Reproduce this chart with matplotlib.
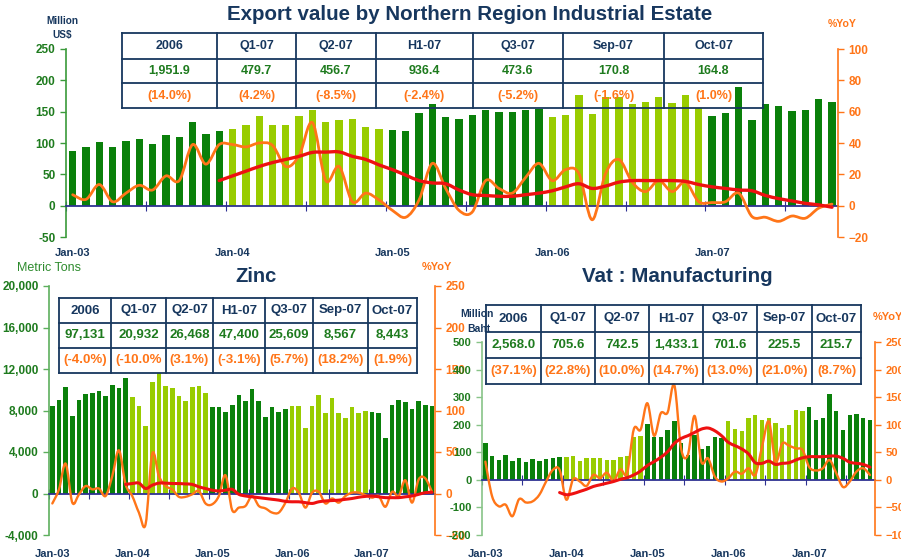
import numpy as np
import matplotlib
matplotlib.use('Agg')
import matplotlib.pyplot as plt
from matplotlib.path import Path
from matplotlib.patches import PathPatch

plt.rcParams['font.family'] = ['Liberation Sans', 'DejaVu Sans']
plt.rcParams['font.weight'] = 'bold'

# Months run Jan-03 .. Oct-07 (58 bars), 12-month average starts Dec-03
jan_idx = [0, 12, 24, 36, 48]
jan_labels = ['Jan-03', 'Jan-04', 'Jan-05', 'Jan-06', 'Jan-07']
ma_start = 11
table_head = ['2006', 'Q1-07', 'Q2-07', 'H1-07', 'Q3-07', 'Sep-07', 'Oct-07']

# Export value (Million US$) and %YoY
export_val = [88, 94, 102, 94, 103, 106, 99, 113, 110, 134, 115, 119,
              123, 129, 143, 128, 129, 143, 152, 134, 136, 138, 125, 122,
              121, 119, 148, 162, 141, 139, 145, 152, 150, 150, 152, 155,
              141, 145, 177, 146, 174, 174, 162, 166, 174, 164, 176, 156,
              143, 148, 190, 136, 162, 159, 151, 152, 171, 165]
export_yoy = [7, 4, 13.5, 2.5, 8, 13, 10, 19, 16, 39, 26.5, 39,
              39, 37.5, 40, 38.5, 25, 32, 53, 16, 25, 2.5, 8, 3.6,
              -3, -7.4, 3.6, 27, 11, -3, -4, 16, 11, 8, 18, 27,
              16, 23, 20.5, -9, 20.5, 29.5, 15, 9, 16, 9, 15, 2.5,
              2, 2.5, 8, -7, -7.4, -10, -6.6, -8, -1.6, 1.0]
export_ma = [16, 19, 22, 25, 27.5, 29.5, 31.5, 34, 34.2, 34.3,
             31.5, 29.5, 26, 23, 19.5, 16, 14.5, 14, 10, 7,
             6.5, 6, 6, 7, 8, 9.5, 12, 14, 11, 12.5,
             15, 16, 16, 16, 16, 15.5, 13.5, 12, 11, 10,
             9.5, 6.5, 4.5, 3, 1.5, 0.5, -1]
export_tab_val = ['1,951.9', '479.7', '456.7', '936.4', '473.6', '170.8', '164.8']
export_tab_pct = ['(14.0%)', '(4.2%)', '(-8.5%)', '(-2.4%)', '(-5.2%)', '(-1.6%)', '(1.0%)']

# Zinc (Metric Tons) and %YoY
zinc_val = [8480, 9060, 10270, 7460, 9060, 9600, 9730, 9890, 9440, 10500, 10140, 11100,
            9310, 8420, 6460, 10780, 11650, 10370, 10210, 9440, 8930, 10270, 10370, 9700,
            8350, 8350, 7810, 8540, 9540, 8930, 10050, 8930, 7390, 8350, 7810, 8100,
            8450, 8450, 6300, 8450, 9450, 7750, 9250, 7750, 7250, 8300, 7750, 8000,
            7850, 7750, 5330, 8560, 9050, 8860, 8150, 8890, 8567, 8443]
zinc_yoy = [-12, 5, 36, -11, -1, 9, 5, 6, -3, 21, 52, 11,
            -3, -23, -37, 48, 21, 9, 5, -4, -4, -1, 3, -12,
            -13, -3, 22, -20, -17, -15, -3, -15, -18, -23, -23, -11,
            6, 1, -17, 1, 2, -12, -6, -11, -3, 1, 1, -2,
            -5, -3, -16, 2, -3, 16, -11, 17, 18.2, 1.9]
zinc_ma = [11, 12, 12.5, 6, 10, 12.5, 12.5, 12, 12, 11.5,
           11, 8, 6, 4, 3, 4, 5, -1, -3, -4,
           -5, -6, -7, -8, -9.5, -10, -10, -11, -12, -10,
           -9, -8.5, -8, -7, -6, -4.5, -3.5, -3, -4, -5,
           -5, -5, -4, -3, -1, 1, 1.5]
zinc_tab_val = ['97,131', '20,932', '26,468', '47,400', '25,609', '8,567', '8,443']
zinc_tab_pct = ['(-4.0%)', '(-10.0%', '(3.1%)', '(-3.1%)', '(5.7%)', '(18.2%)', '(1.9%)']

# Vat : Manufacturing (Million Baht) and %YoY
vat_val = [133, 87, 72, 89, 70, 78, 63, 76, 70, 76, 80, 83,
           83, 87, 70, 80, 80, 80, 72, 72, 83, 87, 155, 160,
           203, 157, 157, 181, 213, 133, 91, 163, 112, 121, 157, 151,
           213, 184, 178, 223, 237, 216, 225, 207, 187, 199, 252, 249,
           266, 216, 224, 310, 250, 182, 236, 240, 225.5, 215.7]
vat_yoy = [33, -30, -48, -45, -66, -35, -41, -39, -27, -3, 18, 18,
           -36, 1, -3, -11, 9, 3, 13, -2, 19, 12, 92, 91,
           139, 80, 121, 122, 172, 57, 45, 116, 33, 39, 6, -3,
           3, 15, 11, 21, 9, 60, 106, 33, 66, 62, 57, 54,
           23, 17, 21, 36, 12, -13, -3, 15, 21.0, 8.7]
vat_ma = [-23, -27, -25, -21, -17, -12, -9, -6, -3, 1,
          4, 9, 16, 26, 33, 41, 51, 66, 75, 80,
          86, 92, 94, 89, 80, 68, 62, 56, 47, 31,
          30, 34, 28, 30, 31, 36, 40, 42, 42, 42,
          43, 43, 39, 32, 30, 28, 23]
vat_tab_val = ['2,568.0', '705.6', '742.5', '1,433.1', '701.6', '225.5', '215.7']
vat_tab_pct = ['(37.1%)', '(22.8%)', '(10.0%)', '(14.7%)', '(13.0%)', '(21.0%)', '(8.7%)']

DARK = '#0A800A'
LIGHT = '#99CC00'
ORANGE = '#FF7518'
RED = '#EE1111'
NAVY = '#17375E'
AXNAVY = '#2E3192'
TICKGREEN = '#1E7B1E'

W, H = 901, 558
fig = plt.figure(figsize=(W / 100, H / 100), dpi=100)


def rect(l, t, r, b):
    return [l / W, 1 - b / H, (r - l) / W, (b - t) / H]


def smooth_line(ax, x, y, color, lw):
    # Excel style smoothed line: bezier through every data point
    p = np.column_stack([x, y]).astype(float)
    verts = [p[0]]
    codes = [Path.MOVETO]
    n = len(p)
    for k in range(n - 1):
        p0 = p[k - 1] if k > 0 else p[k]
        p3 = p[k + 2] if k + 2 < n else p[k + 1]
        c1 = p[k] + (p[k + 1] - p0) / 6
        c2 = p[k + 1] - (p3 - p[k]) / 6
        verts += [c1, c2, p[k + 1]]
        codes += [Path.CURVE4] * 3
    ax.add_patch(PathPatch(Path(verts, codes), facecolor='none',
                           edgecolor=color, lw=lw, capstyle='round',
                           joinstyle='round'))


def panel(box, vals, yoy, ma, xlim, ylim, yticks, yfmt, ylim2, yticks2,
          barw, spine_col, lw_o, lw_r, xpad, lsize):
    ax = fig.add_axes(rect(*box))
    ax.patch.set_visible(False)
    x = np.arange(len(vals))
    cols = [DARK if (i // 12) % 2 == 0 else LIGHT for i in x]
    ax.bar(x, vals, width=barw, color=cols, zorder=2)
    ax.set_xlim(*xlim)
    ax.set_ylim(*ylim)
    ax.set_yticks(yticks)
    ax.set_yticklabels([yfmt(v) for v in yticks])
    ax.tick_params(axis='y', color=spine_col, labelcolor=TICKGREEN,
                   labelsize=lsize, length=4, width=1)
    for s in ['top', 'right']:
        ax.spines[s].set_visible(False)
    ax.spines['left'].set_color(spine_col)
    ax.spines['left'].set_linewidth(1.2)
    ax.spines['bottom'].set_position(('data', 0))
    ax.spines['bottom'].set_color(AXNAVY)
    ax.spines['bottom'].set_linewidth(1.3)
    ax.spines['bottom'].set_zorder(3)
    ax.set_xticks(np.arange(-0.5, len(vals), 6))
    ax.tick_params(axis='x', direction='inout', length=7, color=AXNAVY,
                   labelbottom=False)
    sec = ax.secondary_xaxis(0)
    sec.set_xticks(jan_idx, jan_labels)
    sec.tick_params(length=0, pad=xpad, labelsize=8, labelcolor=NAVY)
    sec.spines['bottom'].set_visible(False)

    ax2 = ax.twinx()
    smooth_line(ax2, x, yoy, ORANGE, lw_o)
    smooth_line(ax2, np.arange(ma_start, len(vals)), ma, RED, lw_r)
    ax2.set_ylim(*ylim2)
    ax2.set_yticks(yticks2)
    ax2.tick_params(axis='y', color=ORANGE, labelcolor=ORANGE,
                    labelsize=lsize, length=4, width=1)
    for s in ['top', 'left', 'bottom']:
        ax2.spines[s].set_visible(False)
    ax2.spines['right'].set_color(ORANGE)
    ax2.spines['right'].set_linewidth(1.2)
    return ax, ax2


panel((66, 49, 838, 237), export_val, export_yoy, export_ma,
      (-0.45, 57.45), (-50, 250), range(-50, 251, 50), lambda v: f'{v}',
      (-20, 100), range(-20, 101, 20), 0.55, '#3A9A3A', 2.0, 2.4, 8, 8.5)

panel((49, 286, 435, 535), zinc_val, zinc_yoy, zinc_ma,
      (-0.45, 57.45), (-4000, 20000), range(-4000, 20001, 4000),
      lambda v: f'{v:,}', (-50, 250), range(-50, 251, 50),
      0.7, '#5DAF5D', 1.7, 2.2, 10, 8.5)

panel((482, 342, 875, 535), vat_val, vat_yoy, vat_ma,
      (-0.45, 57.74), (-200, 500), range(-200, 501, 100), lambda v: f'{v}',
      (-100, 250), range(-100, 251, 50),
      0.65, '#88C488', 1.7, 2.2, 10, 8)

# overlay in pixel coordinates for titles, unit labels and tables
ov = fig.add_axes([0, 0, 1, 1])
ov.set_xlim(0, W)
ov.set_ylim(H, 0)
ov.axis('off')


def draw_table(cols, rows, vals, pcts, size):
    for xc in cols:
        ov.plot([xc, xc], [rows[0], rows[-1]], color=NAVY, lw=1.3)
    for yr in rows:
        ov.plot([cols[0], cols[-1]], [yr, yr], color=NAVY, lw=1.3)
    for j in range(len(table_head)):
        cx = (cols[j] + cols[j + 1]) / 2
        cells = [(table_head[j], NAVY), (vals[j], TICKGREEN), (pcts[j], ORANGE)]
        for r, (txt, c) in enumerate(cells):
            cy = (rows[r] + rows[r + 1]) / 2
            ov.text(cx, cy, txt, ha='center', va='center', color=c, fontsize=size)


draw_table([122, 217, 296, 376, 473, 563, 664, 763], [33, 59, 83, 108],
           export_tab_val, export_tab_pct, 9)
draw_table([59, 111, 166, 213, 265, 313, 368, 417], [298, 323, 348, 373],
           zinc_tab_val, zinc_tab_pct, 9.5)
draw_table([486, 541, 595, 649, 703, 757, 812, 861], [305, 332, 358, 384],
           vat_tab_val, vat_tab_pct, 9.5)

ov.text(470, 14, 'Export value by Northern Region Industrial Estate',
        ha='center', va='center', color=NAVY, fontsize=14.8)
ov.text(256, 277, 'Zinc', ha='center', va='center', color=NAVY, fontsize=14.5)
ov.text(677, 277, 'Vat : Manufacturing', ha='center', va='center',
        color=NAVY, fontsize=14.8)

ov.text(62, 21, 'Million', ha='center', va='center', color=NAVY, fontsize=7.2)
ov.text(62, 35, 'US$', ha='center', va='center', color=NAVY, fontsize=7.2)
ov.text(842, 24, '%YoY', ha='center', va='center', color=ORANGE, fontsize=7.6)

ov.text(49, 268, 'Metric Tons', ha='center', va='center', color='#2E8B2E',
        fontsize=9, fontweight='normal')
ov.text(437, 267, '%YoY', ha='center', va='center', color=ORANGE, fontsize=8)

ov.text(477, 314, 'Million', ha='center', va='center', color=NAVY, fontsize=7.5)
ov.text(479, 329, 'Baht', ha='center', va='center', color=NAVY, fontsize=7.5)
ov.text(888, 317, '%YoY', ha='center', va='center', color=ORANGE, fontsize=8)

fig.savefig('out.png', dpi=100)
